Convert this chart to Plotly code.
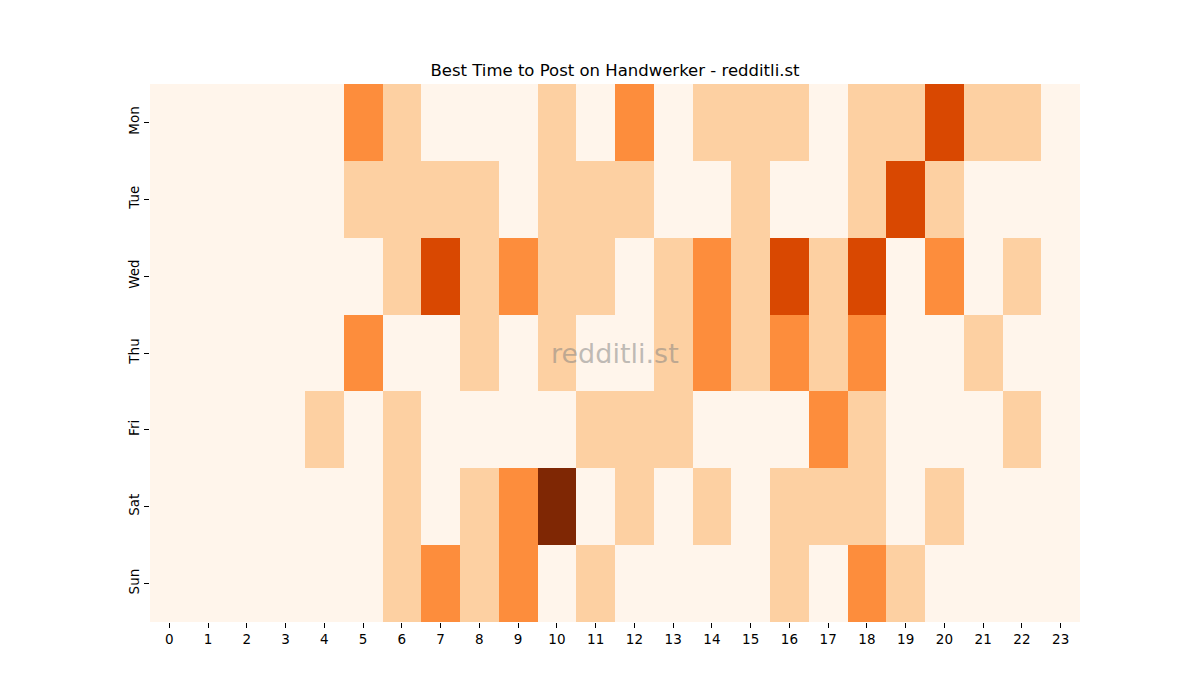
import plotly.graph_objects as go

# posting activity levels (0-4) per weekday and hour
days = ["Mon", "Tue", "Wed", "Thu", "Fri", "Sat", "Sun"]
hours = list(range(24))

mon = [0, 0, 0, 0, 0, 2, 1, 0, 0, 0, 1, 0, 2, 0, 1, 1, 1, 0, 1, 1, 3, 1, 1, 0]
tue = [0, 0, 0, 0, 0, 1, 1, 1, 1, 0, 1, 1, 1, 0, 0, 1, 0, 0, 1, 3, 1, 0, 0, 0]
wed = [0, 0, 0, 0, 0, 0, 1, 3, 1, 2, 1, 1, 0, 1, 2, 1, 3, 1, 3, 0, 2, 0, 1, 0]
thu = [0, 0, 0, 0, 0, 2, 0, 0, 1, 0, 1, 0, 0, 1, 2, 1, 2, 1, 2, 0, 0, 1, 0, 0]
fri = [0, 0, 0, 0, 1, 0, 1, 0, 0, 0, 0, 1, 1, 1, 0, 0, 0, 2, 1, 0, 0, 0, 1, 0]
sat = [0, 0, 0, 0, 0, 0, 1, 0, 1, 2, 4, 0, 1, 0, 1, 0, 1, 1, 1, 0, 1, 0, 0, 0]
sun = [0, 0, 0, 0, 0, 0, 1, 2, 1, 2, 0, 1, 0, 0, 0, 0, 1, 0, 2, 1, 0, 0, 0, 0]

z = [mon, tue, wed, thu, fri, sat, sun]

fig = go.Figure()
fig.add_trace(go.Heatmap(
    z=z, x=hours, y=days,
    colorscale="Oranges", zmin=0, zmax=4,
    showscale=False, xgap=0, ygap=0,
))

fig.add_annotation(
    text="redditli.st", x=0.5, y=0.5, xref="paper", yref="paper",
    showarrow=False, font=dict(size=27, color="rgba(128,128,128,0.5)"),
)

fig.update_layout(
    width=1200, height=700,
    margin=dict(l=142, r=128, t=76, b=86),
    paper_bgcolor="white", plot_bgcolor="white",
    font=dict(family="DejaVu Sans", size=13.5, color="black"),
    title=dict(text="Best Time to Post on Handwerker - redditli.st",
               xref="paper", x=0.5, xanchor="center", y=0.9114, yanchor="middle",
               font=dict(size=16.5, color="black")),
)
fig.update_xaxes(
    tickmode="array", tickvals=hours, ticktext=[str(h) for h in hours],
    ticks="outside", ticklen=5, tickcolor="black", showgrid=False,
    zeroline=False, showline=False,
)
fig.update_yaxes(
    autorange="reversed", tickangle=-90,
    ticks="outside", ticklen=5, tickcolor="black", showgrid=False,
    zeroline=False, showline=False,
)

fig.write_html("out.html")
